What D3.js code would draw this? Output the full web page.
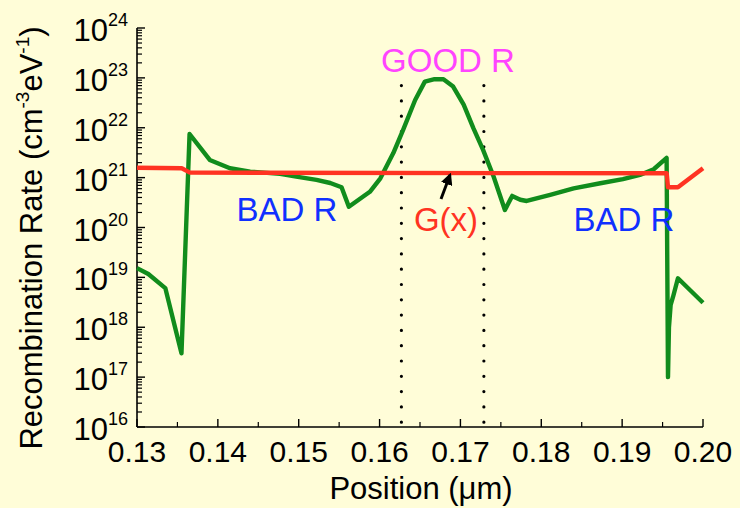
<!DOCTYPE html>
<html>
<head>
<meta charset="utf-8">
<script src="https://cdn.jsdelivr.net/npm/d3@7"></script>
<style>
  html, body { margin: 0; padding: 0; background: #fffdd8; }
  svg { display: block; }
  text { font-family: Arial, "Liberation Sans", Helvetica, sans-serif; }
</style>
</head>
<body>
<svg id="chart" width="740" height="508"></svg>
<script>
// Recombination rate across the device (green) and generation G(x) (red)
const recombX = [0.1300, 0.1314, 0.1335, 0.1355, 0.1365, 0.1390, 0.1415, 0.1440, 0.1477, 0.1497,
                 0.1522, 0.1539, 0.1553, 0.1562, 0.1588, 0.1601, 0.1617, 0.1629, 0.1644, 0.1656,
                 0.1668, 0.1679, 0.1691, 0.1704, 0.1716, 0.1728, 0.1741, 0.1755, 0.1764, 0.1774,
                 0.1782, 0.1811, 0.1840, 0.1873, 0.1901, 0.1922, 0.1939, 0.1955, 0.19567, 0.19579,
                 0.1960, 0.1963, 0.1969, 0.2000];
const recombR = [1.53e19, 1.17e19, 6.1e18, 3.0e17, 7.5e21, 2.26e21, 1.54e21, 1.32e21, 1.19e21, 1.05e21,
                 9.0e20, 7.8e20, 6.4e20, 2.6e20, 5.2e20, 9.7e20, 3.1e21, 9.0e21, 3.6e22, 8.4e22,
                 9.4e22, 9.4e22, 6.7e22, 2.9e22, 9.8e21, 3.6e21, 1.05e21, 2.25e20, 4.3e20, 3.6e20,
                 3.4e20, 4.5e20, 6.1e20, 7.7e20, 9.3e20, 1.13e21, 1.47e21, 2.48e21, 1.0e17, 1.0e18,
                 2.8e18, 4.1e18, 9.6e18, 3.1e18];

const genX = [0.1300, 0.13553, 0.13655, 0.1800, 0.19551, 0.19567, 0.19690, 0.2000];
const genG = [1.58e21, 1.54e21, 1.26e21, 1.23e21, 1.22e21, 6.4e20, 6.4e20, 1.54e21];

// Boundaries of the good-recombination window
const windowX = [0.1627, 0.1729];
const windowTop = 7e22;

const xTicks = [0.13, 0.14, 0.15, 0.16, 0.17, 0.18, 0.19, 0.20];
const xTickLabels = ["0.13", "0.14", "0.15", "0.16", "0.17", "0.18", "0.19", "0.20"];
const yExponents = [16, 17, 18, 19, 20, 21, 22, 23, 24];

const svg = d3.select("#chart");
const margin = { left: 137, right: 37, top: 28, bottom: 81 };
const W = 740, H = 508;

const x = d3.scaleLinear().domain([0.13, 0.20]).range([margin.left, W - margin.right]);
const y = d3.scaleLog().domain([1e16, 1e24]).range([H - margin.bottom, margin.top]);

const axisG = svg.append("g");

// Left axis: line, major and minor inward ticks
axisG.append("line")
  .attr("x1", x(0.13)).attr("x2", x(0.13))
  .attr("y1", y(1e24)).attr("y2", y(1e16))
  .attr("stroke", "#000").attr("stroke-width", 1.6);

const yMinor = [];
yExponents.slice(0, -1).forEach(e => {
  for (let m = 2; m <= 9; m++) yMinor.push(m * Math.pow(10, e));
});
axisG.selectAll(".yminor").data(yMinor).join("line")
  .attr("x1", x(0.13)).attr("x2", x(0.13) + 5)
  .attr("y1", d => y(d)).attr("y2", d => y(d))
  .attr("stroke", "#000").attr("stroke-width", 1.2);
axisG.selectAll(".ymajor").data(yExponents).join("line")
  .attr("x1", x(0.13)).attr("x2", x(0.13) + 8)
  .attr("y1", e => y(Math.pow(10, e))).attr("y2", e => y(Math.pow(10, e)))
  .attr("stroke", "#000").attr("stroke-width", 1.4);

const yLab = axisG.selectAll(".ylab").data(yExponents).join("text")
  .attr("x", 128)
  .attr("y", e => y(Math.pow(10, e)) + 13)
  .attr("text-anchor", "end")
  .attr("font-size", 31)
  .attr("fill", "#000");
yLab.append("tspan").text("10");
yLab.append("tspan").attr("dy", -15).attr("font-size", 18).text(e => e);

// Bottom axis
axisG.append("line")
  .attr("x1", x(0.13)).attr("x2", x(0.20))
  .attr("y1", y(1e16)).attr("y2", y(1e16))
  .attr("stroke", "#000").attr("stroke-width", 1.6);
const xHalf = d3.range(0.135, 0.2, 0.01);
axisG.selectAll(".xminor").data(xHalf).join("line")
  .attr("x1", d => x(d)).attr("x2", d => x(d))
  .attr("y1", y(1e16)).attr("y2", y(1e16) - 5)
  .attr("stroke", "#000").attr("stroke-width", 1.2);
axisG.selectAll(".xmajor").data(xTicks).join("line")
  .attr("x1", d => x(d)).attr("x2", d => x(d))
  .attr("y1", y(1e16)).attr("y2", y(1e16) - 8)
  .attr("stroke", "#000").attr("stroke-width", 1.4);
axisG.selectAll(".xlab").data(xTicks).join("text")
  .attr("x", d => x(d))
  .attr("y", 462)
  .attr("text-anchor", "middle")
  .attr("font-size", 30)
  .attr("fill", "#000")
  .text((d, i) => xTickLabels[i]);

// Axis titles
svg.append("text")
  .attr("x", 421).attr("y", 499)
  .attr("text-anchor", "middle")
  .attr("font-size", 31)
  .text("Position (\u03bcm)");

const yTitle = svg.append("text")
  .attr("transform", "translate(42,238) rotate(-90)")
  .attr("text-anchor", "middle")
  .attr("font-size", 31);
yTitle.append("tspan").text("Recombination Rate (cm");
yTitle.append("tspan").attr("dy", -13).attr("font-size", 19).text("-3");
yTitle.append("tspan").attr("dy", 13).text("eV");
yTitle.append("tspan").attr("dy", -13).attr("font-size", 19).text("-1");
yTitle.append("tspan").attr("dy", 13).text(")");

// Dotted window boundaries
svg.selectAll(".win").data(windowX).join("line")
  .attr("x1", d => x(d)).attr("x2", d => x(d))
  .attr("y1", y(windowTop)).attr("y2", y(1e16))
  .attr("stroke", "#000").attr("stroke-width", 3.2)
  .attr("stroke-linecap", "round")
  .attr("stroke-dasharray", "0,15.3");

// Curves
const recombLine = d3.line()
  .x((d, i) => x(recombX[i])).y(d => y(d));
svg.append("path")
  .datum(recombR)
  .attr("d", recombLine)
  .attr("fill", "none")
  .attr("stroke", "#118c1c")
  .attr("stroke-width", 4.4)
  .attr("stroke-linejoin", "round");

const genLine = d3.line()
  .x((d, i) => x(genX[i])).y(d => y(d));
svg.append("path")
  .datum(genG)
  .attr("d", genLine)
  .attr("fill", "none")
  .attr("stroke", "#ff3322")
  .attr("stroke-width", 4.4)
  .attr("stroke-linejoin", "round");

// Annotations
svg.append("text").attr("x", 448).attr("y", 72).attr("text-anchor", "middle")
  .attr("font-size", 33).attr("fill", "#ff44ff").text("GOOD R");
svg.append("text").attr("x", 287).attr("y", 221).attr("text-anchor", "middle")
  .attr("font-size", 33).attr("fill", "#1030ff").text("BAD R");
svg.append("text").attr("x", 624).attr("y", 231).attr("text-anchor", "middle")
  .attr("font-size", 33).attr("fill", "#1030ff").text("BAD R");
svg.append("text").attr("x", 446).attr("y", 231).attr("text-anchor", "middle")
  .attr("font-size", 33).attr("fill", "#ff3322").text("G(x)");

// Arrow pointing at the G(x) curve
svg.append("defs").append("marker")
  .attr("id", "head").attr("viewBox", "0 0 10 10")
  .attr("refX", 8).attr("refY", 5)
  .attr("markerWidth", 4).attr("markerHeight", 4)
  .attr("orient", "auto")
  .append("path").attr("d", "M0,0 L10,5 L0,10 z").attr("fill", "#000");
svg.append("line")
  .attr("x1", 441).attr("y1", 199)
  .attr("x2", 450).attr("y2", 175)
  .attr("stroke", "#000").attr("stroke-width", 3)
  .attr("marker-end", "url(#head)");
</script>
</body>
</html>
